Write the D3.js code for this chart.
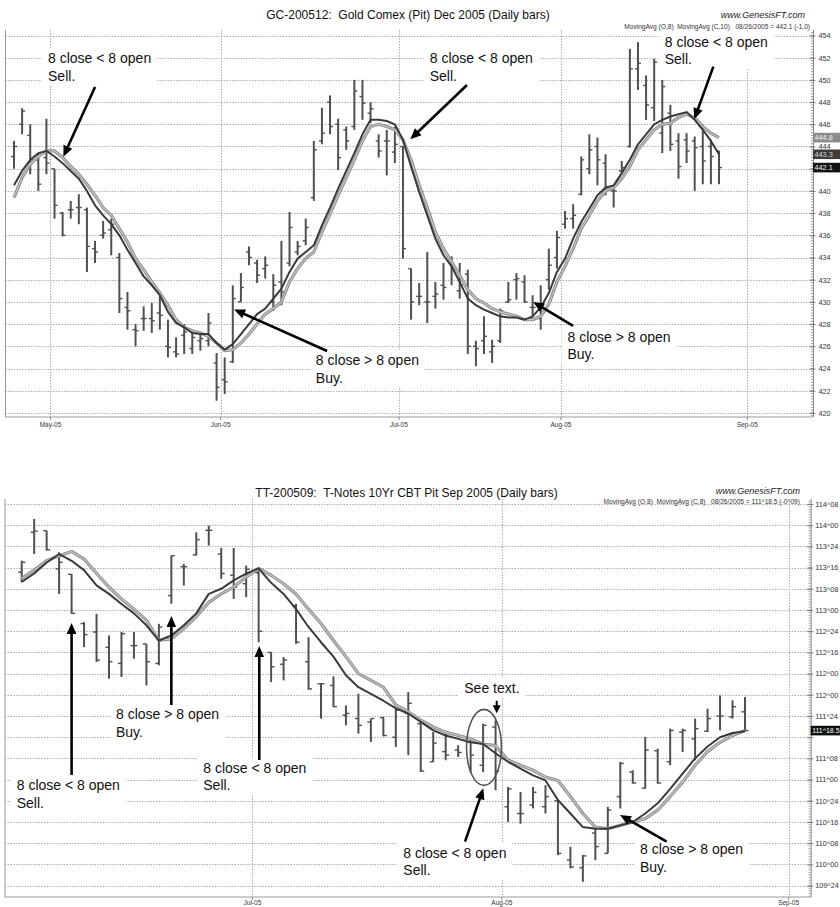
<!DOCTYPE html>
<html>
<head>
<meta charset="utf-8">
<script src="https://cdn.jsdelivr.net/npm/d3@7/dist/d3.min.js"></script>
<style>
html,body{margin:0;padding:0;background:#fff;}
svg{display:block;}
text{font-family:"Liberation Sans",Arial,Helvetica,sans-serif;}
</style>
</head>
<body>
<svg id="chart" width="840" height="907" xmlns="http://www.w3.org/2000/svg"></svg>
<script>
// ================= DATA =================
const siteName = "www.GenesisFT.com";

// ---- Gold Comex Dec 2005, daily bars Apr 25 .. Aug 26 2005 ----
const goldTitle = "GC-200512:  Gold Comex (Pit) Dec 2005 (Daily bars)";
const goldLegend = "MovingAvg (O,8)  MovingAvg (C,10)   08/26/2005 = 442.1 (-1.0)";
const goldMonths = ["May-05","Jun-05","Jul-05","Aug-05","Sep-05"];
const goldMonthStart = [5,26,48,68,91];            // bar index of first trading day
const goldTicks = [420,422,424,426,428,430,432,434,436,438,440,442,444,446,448,450,452,454];
const goldTickLabels = ["420","422","424","426","428","430","432","434","436","438","440","442","444","446","448","450","452","454"];
const goldOpen = [443.1,446.0,445.0,442.8,443.0,442.0,438.0,438.3,438.5,438.3,
 434.8,436.0,436.5,434.0,429.5,427.5,428.5,428.5,429.0,426.0,
 425.5,427.0,425.8,426.5,426.5,424.5,423.0,424.6,430.0,434.5,
 433.5,433.0,430.0,431.8,433.5,434.5,435.5,439.4,444.5,448.0,
 446.0,445.5,445.8,448.5,447.0,444.5,444.5,443.5,444.0,433.0,
 430.5,430.0,430.5,431.5,433.8,431.0,432.5,426.0,426.5,425.5,
 426.5,430.0,432.0,431.8,429.5,428.5,432.0,434.0,437.0,437.5,
 439.7,442.0,444.0,442.5,440.0,441.8,444.0,451.0,449.5,447.5,
 445.2,447.0,444.5,444.6,444.5,444.0,444.0,443.6];
const goldHigh = [444.5,447.45,446.0,443.4,446.5,442.0,438.1,439.1,439.7,438.5,
 435.5,437.3,437.5,434.4,430.9,428.0,429.6,429.9,430.9,428.4,
 426.8,428.0,427.5,427.1,429.0,425.4,425.0,431.5,432.6,435.0,
 433.8,434.1,432.5,435.5,438.1,435.5,437.5,444.5,447.5,448.6,
 446.5,445.8,450.0,450.0,448.0,445.1,445.5,445.8,444.0,433.0,
 431.7,434.5,431.8,433.5,434.1,433.5,432.9,426.5,428.7,426.6,
 429.4,431.8,432.6,432.4,430.6,431.5,434.8,436.4,438.2,438.8,
 443.1,445.1,444.8,443.3,440.5,442.7,452.8,453.4,450.4,451.9,
 450.0,447.75,445.2,445.2,444.9,445.4,444.6,443.6];
const goldLow = [442.0,445.1,441.5,440.0,441.5,437.5,435.9,437.5,437.0,432.7,
 433.5,435.7,434.2,429.0,427.5,426.0,427.4,427.2,427.5,425.0,
 425.0,425.3,425.3,425.6,426.0,421.1,421.7,424.5,430.0,433.3,
 431.7,432.1,429.2,429.7,433.2,434.2,435.1,439.1,444.2,445.1,
 441.9,443.7,445.5,446.4,446.1,443.0,441.4,442.5,433.9,428.4,
 429.7,428.1,429.4,430.2,431.5,430.3,425.3,424.2,425.3,424.5,
 426.3,429.9,430.2,429.9,428.6,427.5,431.1,433.0,436.6,436.6,
 439.6,441.5,440.5,439.6,438.5,441.6,443.9,449.1,446.4,446.3,
 443.4,443.6,441.1,442.5,440.0,440.6,440.6,440.6];
const goldClose = [444.0,447.2,442.8,440.6,442.5,438.7,436.0,438.3,438.5,435.0,
 434.5,436.2,437.0,430.3,429.2,427.4,428.5,428.3,428.8,425.9,
 425.3,427.3,426.8,426.7,428.1,422.3,422.8,430.3,431.3,434.0,
 432.4,433.3,431.5,430.9,436.7,435.0,436.7,443.7,445.2,445.8,
 443.0,444.5,449.0,447.9,447.4,443.6,444.5,444.2,434.8,430.0,
 430.5,430.0,430.7,431.3,433.0,431.5,426.0,425.8,426.9,426.0,
 429.2,430.2,432.1,430.0,429.5,429.5,433.3,435.8,437.5,437.8,
 442.8,443.7,442.8,440.3,440.0,442.1,451.0,451.5,447.75,451.6,
 449.4,444.2,442.2,443.6,443.9,442.7,443.1,442.1];
const goldMaOpen8 = [440.5,441.8,442.8,443.4,443.6,443.1,442.5,441.8,441.1,440.0,
 438.7,437.8,437.0,436.0,434.7,433.5,432.3,431.5,430.6,429.1,
 428.1,427.7,427.2,427.1,427.1,426.3,425.7,426.2,427.1,428.0,
 428.9,429.4,430.3,431.2,432.7,433.9,434.5,435.1,436.9,438.5,
 440.2,441.8,443.4,445.1,446.4,446.4,446.3,446.0,444.6,442.2,
 439.9,437.8,435.7,434.2,433.2,431.8,430.3,429.7,429.3,429.0,
 428.7,428.6,428.6,428.4,428.7,429.5,430.8,432.7,433.9,435.7,
 437.2,438.4,439.6,440.3,440.5,441.6,442.8,444.2,445.1,446.0,
 446.4,446.7,446.9,447.1,446.4,445.5,444.5,443.3];
const goldMaClose10 = [439.4,441.2,442.4,443.1,443.6,443.6,443.0,442.2,441.5,440.6,
 439.6,438.5,437.8,436.6,435.4,433.9,432.9,431.8,430.8,429.7,
 428.4,427.7,427.4,427.2,426.9,426.3,425.6,425.7,426.3,427.1,
 428.0,428.9,429.4,430.0,431.8,433.0,433.9,434.5,436.3,437.9,
 439.6,441.2,442.8,444.5,445.8,446.0,445.8,445.5,444.6,442.8,
 440.5,438.5,436.3,434.8,433.6,432.4,431.1,430.3,429.9,429.4,
 429.1,428.9,428.7,428.4,428.4,428.7,429.8,431.8,433.2,434.8,
 436.6,437.8,439.1,440.0,440.3,441.1,442.2,443.7,444.6,445.5,
 446.0,446.1,446.6,446.9,446.6,445.8,445.2,444.8];
const goldMarkerValues = [444.8,443.3,442.1];
const goldMarkerLabels = ["444.8","443.3","442.1"];
const goldNotes = [
  {lines:["8 close < 8 open","Sell."], at:[4.2,451.5],  from:[10.0,449.36], to:[6.09,443.08]},
  {lines:["8 close < 8 open","Sell."], at:[51.3,451.5], from:[55.9,449.54], to:[48.9,444.65]},
  {lines:["8 close < 8 open","Sell."], at:[80.3,453.0], from:[86.3,451.2],  to:[83.95,446.45]},
  {lines:["8 close > 8 open","Buy."],  at:[37.25,424.32], from:[38.64,425.58], to:[27.16,429.32]},
  {lines:["8 close > 8 open","Buy."],  at:[68.3,426.41], from:[69.0,427.83], to:[64.07,429.99]}
];

// ---- T-Notes 10Yr Sep 2005, daily bars Jun 6 .. Aug 26 2005 ----
const tnTitle = "TT-200509:  T-Notes 10Yr CBT Pit Sep 2005 (Daily bars)";
const tnLegend = "MovingAvg (O,8)  MovingAvg (C,8)   08/26/2005 = 111^18.5 (-0^09)";
const tnMonths = ["Jul-05","Aug-05","Sep-05"];
const tnMonthStart = [19,39,62];
const tnTicks = [109.75,110,110.25,110.5,110.75,111,111.25,111.5,111.75,112,112.25,112.5,112.75,113,113.25,113.5,113.75,114,114.25];
const tnTickLabels = ["109^24","110^00","110^08","110^16","110^24","111^00","111^08","111^16","111^24","112^00","112^00","112^16","112^24","113^00","113^08","113^16","113^24","114^00","114^08"];
const tnOpen = [113.445,113.917,113.936,113.485,113.42,112.84,112.74,112.56,112.37,112.58,
 112.60,112.37,113.17,113.51,113.65,113.94,113.66,113.41,113.31,113.44,
 112.50,112.36,113.05,112.39,112.13,112.11,111.76,111.72,111.68,111.73,
 111.50,111.78,111.66,111.21,111.33,111.35,111.44,111.17,111.62,110.68,
 110.60,110.70,110.68,110.75,110.05,109.96,110.37,110.13,110.80,111.09,
 110.90,111.34,111.21,111.56,111.48,111.57,111.75,111.74,111.80];
const tnHigh = [113.583,114.073,113.936,113.681,113.426,112.857,112.955,112.70,112.74,112.74,
 112.60,112.837,113.642,113.544,113.916,113.995,113.732,113.732,113.524,113.465,
 112.503,112.445,113.073,112.68,112.139,112.217,111.875,112.013,111.719,111.739,
 111.836,112.032,111.68,111.561,111.542,111.405,111.483,111.66,111.699,110.914,
 110.855,110.914,110.934,110.757,110.208,110.11,110.443,110.679,111.208,111.11,
 111.503,111.365,111.601,111.601,111.719,111.836,111.993,111.934,111.974];
const tnLow = [113.328,113.661,113.701,113.19,112.955,112.562,112.386,112.19,112.21,112.425,
 112.11,112.347,113.073,113.288,113.642,113.76,113.367,113.131,113.151,112.621,
 112.15,112.17,112.60,112.06,111.719,111.856,111.64,111.542,111.444,111.51,
 111.385,111.287,111.09,111.208,111.228,111.267,111.09,111.09,110.875,110.502,
 110.48,110.66,110.60,110.11,109.953,109.795,110.05,110.13,110.659,110.953,
 110.894,110.953,111.169,111.326,111.228,111.561,111.581,111.719,111.581];
const tnClose = [113.563,113.93,113.71,113.563,112.96,112.71,112.41,112.39,112.72,112.58,
 112.39,112.80,113.64,113.51,113.83,113.94,113.43,113.27,113.48,112.75,
 112.33,112.41,112.62,112.07,112.13,111.86,111.78,111.64,111.72,111.52,
 111.82,111.90,111.10,111.43,111.29,111.32,111.29,111.64,111.10,110.89,
 110.60,110.85,110.80,110.13,109.97,110.10,110.21,110.64,111.19,110.96,
 111.35,110.96,111.58,111.58,111.60,111.72,111.75,111.86,111.578];
const tnMaOpen8 = [113.33,113.43,113.56,113.66,113.58,113.47,113.29,113.19,113.07,112.96,
 112.82,112.64,112.70,112.82,112.96,113.19,113.25,113.35,113.43,113.49,
 113.32,113.19,113.01,112.80,112.62,112.45,112.23,112.09,112.01,111.93,
 111.84,111.78,111.68,111.58,111.52,111.48,111.44,111.42,111.31,111.21,
 111.13,111.05,110.99,110.76,110.60,110.44,110.42,110.42,110.46,110.50,
 110.60,110.72,110.89,111.07,111.25,111.39,111.50,111.55,111.57];
const tnMaClose8 = [113.37,113.47,113.58,113.64,113.69,113.60,113.43,113.27,113.13,113.01,
 112.88,112.64,112.66,112.78,112.92,113.09,113.19,113.27,113.39,113.49,
 113.41,113.31,113.19,113.01,112.84,112.64,112.45,112.25,112.17,112.09,
 111.88,111.80,111.70,111.62,111.56,111.52,111.48,111.42,111.40,111.23,
 111.17,111.11,111.03,110.99,110.80,110.60,110.44,110.42,110.46,110.50,
 110.54,110.64,110.80,110.97,111.17,111.33,111.44,111.52,111.58];
const tnMarkerValues = [111.578];
const tnMarkerLabels = ["111^18.5"];
const tnNotes = [
  {lines:["8 close < 8 open","Sell."], at:[-0.4,110.877], from:[4.0,111.054], to:[4.0,112.847]},
  {lines:["8 close > 8 open","Buy."],  at:[7.56,111.711], from:[12.0,111.88], to:[12.0,112.929]},
  {lines:["8 close < 8 open","Sell."], at:[14.56,111.081], from:[19.05,111.231], to:[19.05,112.575]},
  {lines:["See text."],                at:[35.49,112.018], from:[38.09,111.93], to:[38.09,111.782], small:true},
  {lines:["8 close < 8 open","Sell."], at:[30.6,110.079], from:[35.55,110.268], to:[37.02,110.897]},
  {lines:["8 close > 8 open","Buy."],  at:[49.58,110.119], from:[51.72,110.268], to:[47.98,110.583]}
];
const tnEllipses = [{center:[37.07,111.38], rx:1.4, ry:0.448}];

// ================= DRAWING =================
const svg = d3.select("#chart");
svg.append("rect").attr("x",0).attr("y",0).attr("width",840).attr("height",907).attr("fill","#fff");

const markerStyles = {
  "444.8":{fill:"#8c8c8c", color:"#eeeeee"},
  "443.3":{fill:"#3c3c3c", color:"#d8d8d8"},
  "442.1":{fill:"#141414", color:"#f2f2f2"},
  "111^18.5":{fill:"#101010", color:"#ffffff"}
};

function arrow(sel, x1, y1, x2, y2, w, hl, hw){
  const dx = x2-x1, dy = y2-y1, len = Math.hypot(dx,dy);
  const ux = dx/len, uy = dy/len;
  const bx = x2-ux*hl, by = y2-uy*hl;
  sel.append("line").attr("x1",x1).attr("y1",y1).attr("x2",bx+ux*1.5).attr("y2",by+uy*1.5)
    .attr("stroke","#000").attr("stroke-width",w);
  sel.append("path")
    .attr("d",`M${x2},${y2}L${bx-uy*hw},${by+ux*hw}L${bx+uy*hw},${by-ux*hw}Z`)
    .attr("fill","#000");
}

function drawChart(cfg){
  const g = svg.append("g");
  const x = d3.scaleLinear().domain(cfg.xDomain).range(cfg.xRange);
  const y = d3.scaleLinear().domain(cfg.yDomain).range(cfg.yRange);
  const left = cfg.frameLeft, right = cfg.xRange[1];
  const top = cfg.plotTop, bottom = cfg.plotBottom;
  const idx = d3.range(cfg.high.length);
  const dotted = s => s.attr("stroke","#a9a9a9").attr("stroke-width",1).attr("stroke-dasharray","1.4,1.4");

  // header
  g.append("text").attr("x",cfg.titleX).attr("y",cfg.titleY).attr("text-anchor","middle")
    .attr("font-size",12).attr("fill","#111").style("white-space","pre").text(cfg.title);
  g.append("text").attr("x",cfg.headRight).attr("y",cfg.siteY).attr("text-anchor","end")
    .attr("font-size",9).attr("font-style","italic").attr("fill","#222").text(siteName);
  g.append("text").attr("x",cfg.headRight+cfg.legendShift).attr("y",cfg.legendY).attr("text-anchor","end")
    .attr("font-size",6.6).attr("fill","#333").style("white-space","pre").text(cfg.legend);

  // grid
  g.append("g").selectAll("line").data(cfg.ticks).join("line")
    .attr("x1",left).attr("x2",right).attr("y1",d=>Math.round(y(d))+0.5).attr("y2",d=>Math.round(y(d))+0.5)
    .call(dotted);
  g.append("g").selectAll("line").data(cfg.monthStart).join("line")
    .attr("x1",d=>Math.round(x(d-0.5))+0.5).attr("x2",d=>Math.round(x(d-0.5))+0.5)
    .attr("y1",top).attr("y2",bottom).call(dotted);

  // frame
  g.append("line").attr("x1",left).attr("x2",left).attr("y1",top).attr("y2",bottom).attr("stroke","#9a9a9a");
  g.append("line").attr("x1",left).attr("x2",right).attr("y1",bottom).attr("y2",bottom).attr("stroke","#9a9a9a");
  g.append("g").selectAll("line").data(cfg.monthStart).join("line")
    .attr("x1",d=>x(d-0.5)).attr("x2",d=>x(d-0.5)).attr("y1",bottom).attr("y2",bottom+3).attr("stroke","#888");
  g.append("g").selectAll("text").data(cfg.months).join("text")
    .attr("x",(d,i)=>x(cfg.monthStart[i]-0.5)).attr("y",cfg.labelY).attr("text-anchor","middle")
    .attr("font-size",6.5).attr("fill","#333").text(d=>d);

  // bars
  const bg = g.append("g").attr("stroke","#505050");
  bg.selectAll("line.hl").data(idx).join("line").attr("class","hl")
    .attr("x1",i=>x(i)).attr("x2",i=>x(i)).attr("y1",i=>y(cfg.high[i])).attr("y2",i=>y(cfg.low[i]))
    .attr("stroke-width",2);
  bg.selectAll("line.op").data(idx).join("line").attr("class","op")
    .attr("x1",i=>x(i)-cfg.tickLen).attr("x2",i=>x(i)).attr("y1",i=>y(cfg.open[i])).attr("y2",i=>y(cfg.open[i]))
    .attr("stroke-width",1.4);
  bg.selectAll("line.cl").data(idx).join("line").attr("class","cl")
    .attr("x1",i=>x(i)).attr("x2",i=>x(i)+cfg.tickLen).attr("y1",i=>y(cfg.close[i])).attr("y2",i=>y(cfg.close[i]))
    .attr("stroke-width",1.4);

  // moving averages
  const line = d3.line().x((d,i)=>x(i)).y(d=>y(d));
  g.append("path").attr("d",line(cfg.maSlow)).attr("fill","none").attr("stroke","#8e8e8e")
    .attr("stroke-width",3.2).attr("stroke-linejoin","round");
  g.append("path").attr("d",line(cfg.maSlow)).attr("fill","none").attr("stroke","#c9c9c9")
    .attr("stroke-width",1.1).attr("stroke-linejoin","round");
  g.append("path").attr("d",line(cfg.maFast)).attr("fill","none").attr("stroke","#3a3a3a")
    .attr("stroke-width",2).attr("stroke-linejoin","round");

  // ellipses
  (cfg.ellipses||[]).forEach(e=>{
    g.append("ellipse").attr("cx",x(e.center[0])).attr("cy",y(e.center[1]))
      .attr("rx",x(e.center[0]+e.rx)-x(e.center[0])).attr("ry",y(e.center[1]-e.ry)-y(e.center[1]))
      .attr("fill","none").attr("stroke","#555").attr("stroke-width",1.6);
  });

  // annotations
  const ag = g.append("g");
  cfg.notes.forEach(nt=>{
    const tg = ag.append("g");
    const rect = tg.append("rect").attr("fill","#fff");
    const tx = x(nt.at[0]);
    const t = tg.append("text").attr("x",tx).attr("y",y(nt.at[1])).attr("font-size",14).attr("fill","#111");
    nt.lines.forEach((s,k)=>t.append("tspan").attr("x",tx).attr("dy",k?17.6:0).text(s));
    const bb = t.node().getBBox();
    rect.attr("x",bb.x-6).attr("y",bb.y-2).attr("width",bb.width+12).attr("height",bb.height+3);
  });
  cfg.notes.forEach(nt=>{
    if(nt.small) arrow(ag, x(nt.from[0]),y(nt.from[1]),x(nt.to[0]),y(nt.to[1]),2,8,4);
    else arrow(ag, x(nt.from[0]),y(nt.from[1]),x(nt.to[0]),y(nt.to[1]),2.6,11,4.8);
  });

  // right axis
  g.append("line").attr("x1",right+0.5).attr("x2",right+0.5).attr("y1",top).attr("y2",bottom).attr("stroke","#8a8a8a");
  const minor = d3.range(Math.ceil(y.invert(bottom)/cfg.minorStep)*cfg.minorStep, y.invert(top), cfg.minorStep);
  g.append("g").selectAll("line").data(minor).join("line")
    .attr("x1",right-2).attr("x2",right).attr("y1",d=>y(d)).attr("y2",d=>y(d)).attr("stroke","#999");
  const axis = d3.axisRight(y).tickValues(cfg.ticks).tickFormat((d,i)=>cfg.tickLabels[i])
    .tickSizeInner(2).tickSizeOuter(0).tickPadding(cfg.labelPad);
  const axg = g.append("g").attr("transform",`translate(${right+0.5},0)`).call(axis);
  axg.select(".domain").remove();
  axg.selectAll(".tick line").attr("stroke","#777").attr("x1",-4);
  axg.selectAll(".tick text").attr("font-size",7.3).attr("fill","#333")
    .style("font-family","'Liberation Sans',Arial,sans-serif")
    // labels that sit underneath a last-value box are hidden by it in the original
    .style("display", d => cfg.markerValues.some(v => Math.abs(y(v)-y(d)) < 7) ? "none" : null);

  // last-value markers
  cfg.markerValues.forEach((v,i)=>{
    const lab = cfg.markerLabels[i];
    const st = markerStyles[lab];
    const yy = y(v);
    g.append("rect").attr("x",right).attr("y",yy-4.8).attr("width",840-right).attr("height",9.6).attr("fill",st.fill);
    const t = g.append("text").attr("x",right+1.5).attr("y",yy+2.6).attr("font-size",7.3).attr("fill",st.color).text(lab);
    const w = t.node().getComputedTextLength();
    const room = 840 - (right+1.5) - 0.5;
    if (w > room) t.attr("textLength",room).attr("lengthAdjust","spacingAndGlyphs");
  });
}

drawChart({
  title:goldTitle, legend:goldLegend, titleX:408, titleY:19.3, siteY:18, legendY:28.5, headRight:805, legendShift:5,
  xDomain:[-1,98.6], xRange:[5.9,813], yDomain:[420,454], yRange:[412.9,35.5],
  frameLeft:5.5, plotTop:30, plotBottom:417, labelY:427,
  ticks:goldTicks, tickLabels:goldTickLabels, minorStep:0.25, labelPad:3,
  months:goldMonths, monthStart:goldMonthStart,
  open:goldOpen, high:goldHigh, low:goldLow, close:goldClose,
  maFast:goldMaOpen8, maSlow:goldMaClose10, tickLen:3,
  markerValues:goldMarkerValues, markerLabels:goldMarkerLabels,
  notes:goldNotes
});

drawChart({
  title:tnTitle, legend:tnLegend, titleX:406.5, titleY:496.7, siteY:494, legendY:504, headRight:800, legendShift:0,
  xDomain:[-1.34,63.27], xRange:[5,810.7], yDomain:[109.75,114.25], yRange:[885.6,504],
  frameLeft:5, plotTop:499, plotBottom:897, labelY:905,
  ticks:tnTicks, tickLabels:tnTickLabels, minorStep:1/32, labelPad:2,
  months:tnMonths, monthStart:tnMonthStart,
  open:tnOpen, high:tnHigh, low:tnLow, close:tnClose,
  maFast:tnMaOpen8, maSlow:tnMaClose8, tickLen:3.5,
  markerValues:tnMarkerValues, markerLabels:tnMarkerLabels,
  notes:tnNotes, ellipses:tnEllipses
});
</script>
</body>
</html>
